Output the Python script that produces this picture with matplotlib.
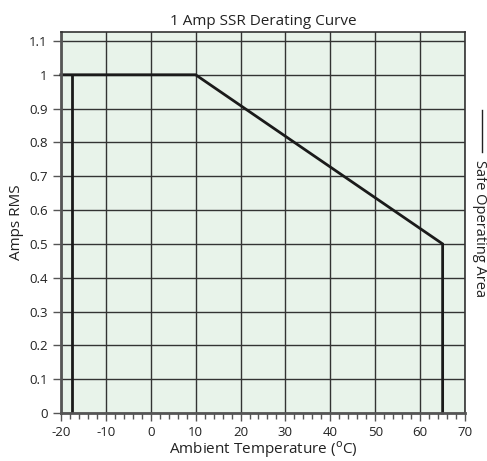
import matplotlib
matplotlib.use("Agg")
import matplotlib.pyplot as plt
import numpy as np

plt.rcParams['font.family'] = ['Open Sans', 'DejaVu Sans']
plt.rcParams['axes.unicode_minus'] = False

curve_x = [-20, 10, 65, 65]
curve_y = [1.0, 1.0, 0.5, 0.0]
left_x = [-17.5, -17.5]
left_y = [0.0, 1.0]
x_ticks = [-20, -10, 0, 10, 20, 30, 40, 50, 60, 70]
y_ticks = [0, 0.1, 0.2, 0.3, 0.4, 0.5, 0.6, 0.7, 0.8, 0.9, 1.0, 1.1]
y_labels = ["0", "0.1", "0.2", "0.3", "0.4", "0.5", "0.6", "0.7", "0.8", "0.9", "1", "1.1"]

fig = plt.figure(figsize=(4.87, 4.61), dpi=100)
ax = fig.add_axes([0.125, 0.104, 0.830, 0.827])
ax.set_facecolor('#e8f3ea')
ax.set_xlim(-20, 70)
ax.set_ylim(0, 1.127)

ax.set_xticks(x_ticks)
ax.set_xticks(np.arange(-20, 71, 2), minor=True)
ax.set_yticks(y_ticks)
ax.set_yticklabels(y_labels)
ax.grid(True, which='major', color='#333333', linewidth=1.0)
ax.set_axisbelow(True)
ax.tick_params(axis='both', which='major', length=6, width=1.0, color='#555555', labelsize=9.5, labelcolor='#222222')
ax.tick_params(axis='x', which='minor', length=4, width=1.0, color='#555555')
ax.tick_params(axis='y', which='minor', length=0)
for s in ['left', 'bottom']:
    ax.spines[s].set_color('#555555')
    ax.spines[s].set_linewidth(2)
for s in ['top', 'right']:
    ax.spines[s].set_color('#333333')
    ax.spines[s].set_linewidth(1.2)

ax.plot(curve_x, curve_y, color='#1a1a1a', linewidth=2, solid_joinstyle='miter', clip_on=False)
ax.plot(left_x, left_y, color='#1a1a1a', linewidth=2)

ax.set_title("1 Amp SSR Derating Curve", fontsize=11, color='#222222', pad=5)
ax.set_xlabel("Ambient Temperature ($^{\\mathrm{o}}$C)", fontsize=11, color='#222222', labelpad=0)
ax.set_ylabel("Amps RMS", fontsize=11, color='#222222', labelpad=4)

fig.lines.append(plt.Line2D([482/487, 482/487], [1-110/461, 1-152/461], transform=fig.transFigure, color='#222222', linewidth=1))
fig.text(486.5/487, 1-160/461, "Safe Operating Area", rotation=270, ha='right', va='top', fontsize=10.5, color='#222222')

fig.savefig("out.png", dpi=100)
